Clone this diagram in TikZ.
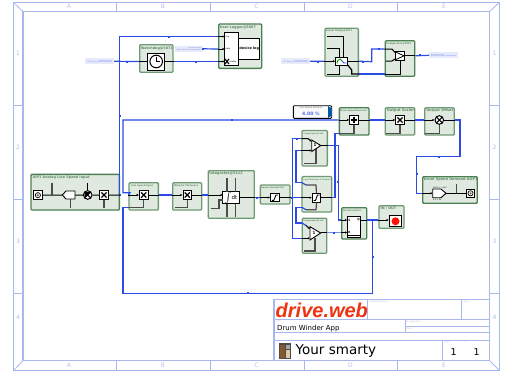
\documentclass[tikz,border=0pt]{standalone}
\usepackage{fontspec}
\setmainfont{DejaVu Sans}
\newfontfamily\logofont{Liberation Sans}
\usetikzlibrary{arrows.meta}
\definecolor{framecol}{HTML}{A9B7EF}
\definecolor{framenum}{HTML}{B4C0EE}
\definecolor{blockfill}{HTML}{DFE9DF}
\definecolor{blockedge}{HTML}{6F9A74}
\definecolor{blockdark}{HTML}{4A8052}
\definecolor{titlegreen}{HTML}{5E8A63}
\definecolor{wireblue}{HTML}{2A4BE6}
\definecolor{palelabel}{HTML}{E7EAFB}
\definecolor{logored}{HTML}{EE3311}
\newcommand{\fsz}[1]{\fontsize{#1}{#1}\selectfont}
\newcommand{\wiremark}[2]{\fill[wireblue] (#1-1,#2-1) rectangle (#1+1,#2+1);}
\tikzset{
  block/.style={draw=blockedge,line width=1.3pt,fill=blockfill,rounded corners=1pt,inner sep=0pt},
  darkblock/.style={block,draw=blockdark},
  blocktitle/.style={anchor=north west,inner sep=0pt,text=titlegreen,font=\fsz{#1}\bfseries},
  blocktitle/.default=3.5,
  iconbox/.style={draw=black,line width=1pt,fill=white,inner sep=0pt,minimum width=8.6pt,minimum height=8.6pt},
  bus/.style={draw=wireblue,line width=1.2pt},
  stub/.style={draw=black,line width=1pt},
  stubin/.style={stub,-{Latex[length=2.2pt,width=2.4pt]}},
  greystub/.style={draw=black!70,line width=1.2pt},
  palebox/.style={fill=palelabel,inner sep=0pt,minimum width=28.5pt,minimum height=6pt,align=right,text=wireblue!70,font=\fsz{1.7}},
  framelabel/.style={inner sep=0pt,text=framenum,font=\fsz{6}},
  sheetlabel/.style={anchor=north west,inner sep=0pt,text=framenum,font=\fsz{2.2}},
}
\begin{document}
\begin{tikzpicture}[x=1pt,y=-1pt]
\useasboundingbox (0,0) rectangle (506,372);
\fill[white] (0,0) rectangle (506,372);
% sheet frame
\draw[framecol,line width=1.2pt] (13.5,2.5) rectangle (499.5,370.5);
\draw[framecol,line width=1.2pt] (23,11.5) rectangle (489.5,360.5);
\draw[framecol,line width=0.8pt] (13.5,2.5) -- (23,11.5) (499.5,2.5) -- (489.5,11.5) (13.5,370.5) -- (23,360.5) (499.5,370.5) -- (489.5,360.5);
\draw[framecol,line width=0.9pt] (116.7,2.5) -- (116.7,11.5) (210,2.5) -- (210,11.5) (304,2.5) -- (304,11.5) (397.5,2.5) -- (397.5,11.5);
\draw[framecol,line width=0.9pt] (116.7,360.5) -- (116.7,370.5) (210,360.5) -- (210,370.5) (304,360.5) -- (304,370.5) (397.5,360.5) -- (397.5,370.5);
\draw[framecol,line width=0.9pt] (13.5,105) -- (23,105) (13.5,199) -- (23,199) (13.5,293) -- (23,293);
\draw[framecol,line width=0.9pt] (489.5,105) -- (499.5,105) (489.5,199) -- (499.5,199) (489.5,293) -- (499.5,293);
\node[framelabel] (topa) at (69,6.8) {A};
\node[framelabel] (topb) at (163,6.8) {B};
\node[framelabel] (topc) at (256.5,6.8) {C};
\node[framelabel] (topd) at (350.5,6.8) {D};
\node[framelabel] (tope) at (444,6.8) {E};
\node[framelabel] (bota) at (69,365.8) {A};
\node[framelabel] (botb) at (163,365.8) {B};
\node[framelabel] (botc) at (256.5,365.8) {C};
\node[framelabel] (botd) at (350.5,365.8) {D};
\node[framelabel] (bote) at (444,365.8) {E};
\node[framelabel] (lefta) at (18,53) {1};
\node[framelabel] (leftb) at (18,147) {2};
\node[framelabel] (leftc) at (18,241) {3};
\node[framelabel] (leftd) at (18,317.5) {4};
\node[framelabel] (righta) at (494.5,53) {1};
\node[framelabel] (rightb) at (494.5,147) {2};
\node[framelabel] (rightc) at (494.5,241) {3};
\node[framelabel] (rightd) at (494.5,317.5) {4};
% title sheet
\draw[framecol,line width=1.1pt] (274,299.3) rectangle (489.5,360.5);
\draw[framecol,line width=1pt] (274,319.3) -- (489.5,319.3) (405,326.7) -- (489.5,326.7) (274,332.7) -- (489.5,332.7) (274,340) -- (489.5,340);
\draw[framecol,line width=1pt] (367.7,299.3) -- (367.7,319.3) (461.7,299.3) -- (461.7,319.3) (405,319.3) -- (405,332.7) (442.3,340) -- (442.3,360.5);
\node[anchor=west,inner sep=0pt,text=logored,font=\logofont\bfseries\itshape\fsz{20}] (logotext) at (275.5,310.5) {drive.web};
\node[sheetlabel] (drawingno) at (369,300.3) {Drawing Number};
\node[sheetlabel] (issue) at (463,300.3) {Issue};
\node[sheetlabel] (titlelabel) at (275.5,320) {Title};
\node[sheetlabel] (designed) at (406.5,320.2) {Designed By};
\node[sheetlabel] (datelabel) at (406.5,327.6) {Date};
\node[sheetlabel] (pagelabel) at (444,341) {Page};
\node[sheetlabel] (oflabel) at (463.5,341) {of};
\node[anchor=west,inner sep=0pt,font=\fsz{7}] (apptitle) at (277,328.4) {Drum Winder App};
\node[anchor=west,inner sep=0pt,font=\fsz{13.5}] (smarty) at (295.5,351) {Your smarty};
\node[inner sep=0pt,font=\fsz{9.5}] (pageno) at (453.7,352) {1};
\node[inner sep=0pt,font=\fsz{9.5}] (pagecount) at (476.7,352) {1};
% smarty picture
\fill[black!70] (279,343) rectangle (291,359.3);
\fill[brown!70!black] (280,344.5) rectangle (285,358);
\fill[black!35] (285.5,345) rectangle (290,349);
\fill[brown!45] (285.5,350) rectangle (290,358);
% blocks
\node[block,minimum width=33.3pt,minimum height=27.6pt] (watchdog) at (156.3,58.5) {};
\node[darkblock,minimum width=43pt,minimum height=44.3pt] (logger) at (240.2,46.2) {};
\node[block,minimum width=33.3pt,minimum height=48pt] (ramp) at (341.7,52.3) {};
\node[darkblock,minimum width=29.4pt,minimum height=35.6pt] (select) at (400,58.5) {};
\node[darkblock,minimum width=88.3pt,minimum height=35.7pt] (ioin) at (75.2,192.2) {};
\node[block,minimum width=29.3pt,minimum height=27.3pt] (linespeed) at (143.7,196.4) {};
\node[block,minimum width=29pt,minimum height=27.3pt] (thickness) at (187.2,196.4) {};
\node[block,minimum width=46pt,minimum height=47.6pt] (integrator) at (231.3,194.5) {};
\node[block,minimum width=29.7pt,minimum height=19pt] (sqroot) at (275.2,194.5) {};
\node[block,minimum width=25.3pt,minimum height=35.5pt] (cmptop) at (314.7,148.3) {};
\node[block,minimum width=29.7pt,minimum height=35.5pt] (limit) at (316.9,194.3) {};
\node[block,minimum width=24.4pt,minimum height=35pt] (cmpbot) at (314.5,235.8) {};
\node[darkblock,minimum width=25pt,minimum height=31.3pt] (srlatch) at (354.2,223.4) {};
\node[block,minimum width=25pt,minimum height=22.6pt] (inout) at (391.5,217) {};
\node[darkblock,minimum width=29.7pt,minimum height=27.3pt] (demand) at (354.2,121.4) {};
\node[block,minimum width=29.4pt,minimum height=27.3pt] (scaler) at (400,121.4) {};
\node[block,minimum width=29.6pt,minimum height=27.3pt] (offset) at (439.5,121.4) {};
\node[darkblock,minimum width=54.6pt,minimum height=26.6pt] (aop) at (450,190) {};
\node[blocktitle=3.4] (watchdogname) at ([shift={(1.6,2.2)}]watchdog.north west) {Watchdog@5071};
\node[blocktitle=3.4] (loggername) at ([shift={(1.5,2)}]logger.north west) {User Logger@5067};
\node[blocktitle=2.4] (rampname) at ([shift={(1.5,2.2)}]ramp.north west) {Linear Ramp@5071};
\node[blocktitle=2.4] (selectname) at ([shift={(1.5,2.2)}]select.north west) {Comparator@5067};
\node[blocktitle=3.4] (ioinname) at ([shift={(2,1.8)}]ioin.north west) {UIP1 Analog Line Speed Input};
\node[blocktitle=2.3] (linespeedname) at ([shift={(2.5,2.4)}]linespeed.north west) {Line Speed Input};
\node[blocktitle=2.3] (thicknessname) at ([shift={(1.5,2.4)}]thickness.north west) {Material Thickness};
\node[blocktitle=3.5] (integratorname) at ([shift={(1.5,2)}]integrator.north west) {Integrator@5112};
\node[blocktitle=2.1] (sqrootname) at ([shift={(1.5,2.6)}]sqroot.north west) {Square Root@5118};
\node[blocktitle=1.9] (cmptopname) at ([shift={(2,2.6)}]cmptop.north west) {Comparator@5116};
\node[blocktitle=1.9] (limitname) at ([shift={(2,2.6)}]limit.north west) {Level Detector 2 Channel};
\node[blocktitle=1.9] (cmpbotname) at ([shift={(1.8,2.6)}]cmpbot.north west) {Comparator@5116};
\node[blocktitle=2.1] (srlatchname) at ([shift={(1.5,2.4)}]srlatch.north west) {SR Latch@5092};
\node[blocktitle=3.4] (inoutname) at ([shift={(2,1.8)}]inout.north west) {IN / OUT};
\node[blocktitle=2.2] (demandname) at ([shift={(1.5,2.4)}]demand.north west) {Drum Speed Demand};
\node[blocktitle=3.5] (scalername) at ([shift={(2,1.8)}]scaler.north west) {Output Scaler};
\node[blocktitle=3.5] (offsetname) at ([shift={(2,1.8)}]offset.north west) {Output Offset};
\node[blocktitle=3.5] (aopname) at ([shift={(1.6,2)}]aop.north west) {Drum Speed Demand AOP1};
% free labels and display
\node[palebox] (sourcea) at (99.7,61.3) {another source\\Will Source from Somewhere};
\node[palebox] (sourceb) at (189.2,48.8) {another source\\Will Source from Somewhere};
\node[palebox] (sourcec) at (295.5,61.3) {another source\\Will Source from Somewhere};
\node[palebox,align=left] (sourced) at (443.5,55.3) {another source\\Will Source from Somewhere};
\node[draw=black,line width=0.9pt,fill=black!2,rounded corners=1pt,inner sep=0pt,minimum width=38.4pt,minimum height=12.6pt] (display) at (312.5,112) {};
\fill[teal!70!blue] (328.2,106.2) -- (331.5,108) -- (331.5,116) -- (328.2,117.8) -- cycle;
\node[inner sep=0pt,text=black!60,font=\fsz{2.2}] (displayname) at (311,108.2) {Line Speed Demand};
\node[inner sep=0pt,text=wireblue!80,font=\fsz{4.6}\bfseries] (displayvalue) at (311,114) {4.00 \%};
% inner icons
\node[iconbox,minimum width=17pt,minimum height=17pt] (clock) at (156.2,61.5) {};
\node[iconbox,line width=0.7pt,minimum width=14pt,minimum height=33pt] (logcore) at (231.7,49.2) {};
\node[iconbox,minimum width=21pt,minimum height=21pt,font=\fsz{3.4}\bfseries] (logbox) at (249.2,48.8) {device log};
\node[iconbox,minimum width=12pt,minimum height=7.7pt] (rampbox) at (341.7,61.2) {};
\node[iconbox,line width=0.6pt,minimum width=9pt,minimum height=8.3pt] (selbox) at (399.5,55.8) {};
\node[iconbox] (ioicon) at (37.9,195.2) {};
\node[iconbox,circle,minimum width=8.6pt,minimum height=8.6pt] (iomul) at (87.7,195) {};
\node[iconbox] (ioscale) at (104,195) {};
\node[iconbox] (lsbox) at (143.7,195) {};
\node[iconbox] (mtbox) at (187.3,195) {};
\node[iconbox,minimum width=16.6pt,minimum height=12.3pt,font=\fsz{5.5}] (intbox) at (231,197.8) {$\int$dt};
\node[iconbox] (sqbox) at (274.8,197.5) {};
\node[iconbox,line width=0.7pt] (limbox) at (316.5,197.7) {};
\node[iconbox,line width=0.7pt,minimum width=13.4pt,minimum height=21.3pt] (srbox) at (354,226.6) {};
\node[iconbox,minimum width=12.4pt,minimum height=10.7pt] (ledbox) at (395.5,221.3) {};
\node[iconbox] (demandbox) at (354,120) {};
\node[iconbox] (scalerbox) at (400,120) {};
\node[iconbox,circle] (offsetdot) at (439.3,120) {};
\node[iconbox] (aopicon) at (470.5,193.3) {};
% coordinates for wires
\coordinate (loghi) at (224.7,36.5);
\coordinate (logmid) at (224.7,49);
\coordinate (loglo) at (224.7,61.5);
\coordinate (outbusa) at (119.5,36.5);
\coordinate (outbusb) at (119.5,195);
\coordinate (loopnw) at (123,120);
\coordinate (loopw) at (123,192.7);
\coordinate (loopsw) at (123,293.3);
\coordinate (loopse) at (372.7,293.3);
\coordinate (loopjoin) at (372.7,220);
\coordinate (lsupper) at (130,192.7);
\coordinate (lslower) at (123,207.8);
\coordinate (lsbend) at (143.7,207.8);
\coordinate (mtbend) at (187.3,207.8);
\coordinate (offsetc) at (460,120);
\coordinate (offsetd) at (460,156.7);
\coordinate (offsete) at (416.7,156.7);
\coordinate (offsetf) at (416.7,193.3);
\coordinate (aopin) at (432.7,193.3);
\coordinate (aopout) at (446,193.3);
\coordinate (splittop) at (292.3,138.5);
\coordinate (splitbot) at (292.3,238.3);
\coordinate (cmptopa) at (311.7,141.7);
\coordinate (cmptopb) at (311.7,150.5);
\coordinate (cmptopout) at (320.7,145.5);
\coordinate (cmpbota) at (310,229);
\coordinate (cmpbotb) at (310,238.3);
\coordinate (cmpbotout) at (320.7,232.5);
\coordinate (linktopa) at (296,150.5);
\coordinate (linktopb) at (296,182.7);
\coordinate (linktopc) at (302,182.7);
\coordinate (linktopd) at (306,185);
\coordinate (linktope) at (316,185);
\coordinate (linkbota) at (296,207.3);
\coordinate (linkbotb) at (296,223);
\coordinate (linkbotc) at (302,223);
\coordinate (linkdowna) at (302,207.3);
\coordinate (linkdownb) at (306,209.7);
\coordinate (linkdownc) at (316,209.7);
\coordinate (cmptoprun) at (338.3,145.5);
\coordinate (srin) at (347.3,220);
\coordinate (srinb) at (347.3,232.5);
\coordinate (srout) at (360.7,220);
\coordinate (limitup) at (335,197.7);
\coordinate (limitdem) at (335,133.3);
\coordinate (demandlow) at (354,133.3);
\coordinate (rampout) at (371.7,61.7);
\coordinate (rampupper) at (371.7,49);
\coordinate (selhi) at (392,49);
\coordinate (sello) at (392,61);
\coordinate (rampdrop) at (351.7,70);
\coordinate (rampdown) at (351.7,74);
\coordinate (rampfar) at (400,74);
% blue wires
\draw[bus] (sourcea.east) -- (clock.west -| watchdog.west);
\draw[bus] (clock.east -| watchdog.east) -- (loglo -| logger.west);
\draw[bus] (sourceb.east) -- (logmid -| logger.west);
\draw[bus] (loghi -| logger.west) -- (outbusa) -- (outbusb) -- (ioin.east |- outbusb);
\draw[bus] (linespeed.west |- lsbox) -- (lsupper) -- (loopw) -- (loopnw) -- (demand.west |- loopnw);
\draw[bus] (lslower -| linespeed.west) -- (lslower) -- (loopsw) -- (loopse) -- (loopjoin);
\draw[bus] (lsbox.east -| linespeed.east) -- (mtbox.west -| thickness.west);
\draw[bus] (mtbox.east -| thickness.east) -- (integrator.west |- mtbox);
\draw[bus] (intbox.east -| integrator.east) -- (sqroot.west |- intbox);
\draw[bus] (sqbox.east -| sqroot.east) -- (limit.west |- sqbox);
\draw[bus] (splittop) -- (splitbot);
\draw[bus] (splittop) -- (splittop -| cmptop.west);
\draw[bus] (splitbot) -- (splitbot -| cmpbot.west);
\draw[bus] (cmptop.west |- linktopa) -- (linktopa) -- (linktopb) -- (linktopc);
\draw[bus] (linkdowna) -- (linkbota) -- (linkbotb) -- (linkbotc);
\draw[bus] (cmptopout -| cmptop.east) -- (cmptoprun) -- (cmptoprun |- srin) -- (srlatch.west |- srin);
\draw[bus] (limbox.east -| limit.east) -- (limitup) -- (limitdem) -- (demand.west |- limitdem);
\draw[bus,line width=1.7pt,wireblue!65] (cmpbotout -| cmpbot.east) -- (srlatch.west |- srinb);
\draw[bus] (srlatch.east |- srout) -- (inout.west |- srout);
\draw[bus] (demandbox.east -| demand.east) -- (scalerbox.west -| scaler.west);
\draw[bus] (scalerbox.east -| scaler.east) -- (offsetdot.west -| offset.west);
\draw[bus] (offsetdot.east -| offset.east) -- (offsetc) -- (offsetd) -- (offsete) -- (offsetf) -- (offsetf -| aop.west);
\draw[bus] (sourcec.east) -- (rampbox.west -| ramp.west);
\draw[bus] (rampbox.east -| ramp.east) -- (rampout) -- (rampupper) -- (rampupper -| select.west);
\draw[bus] (rampdown -| ramp.east) -- (rampfar -| select.west);
\draw[bus] (selbox.east -| select.east) -- (sourced.west);
% black stubs
\draw[stub] (clock.west -| watchdog.west) -- (clock.west);
\draw[stub] (clock.east) -- (clock.east -| watchdog.east);
\draw[stubin] (loglo -| logger.west) -- (loglo);
\draw[stubin] (logmid -| logger.west) -- (logmid);
\draw[stubin] (loghi -| logger.west) -- (loghi);
\draw[stub] (ioicon.east) -- (62.3,195) (75,195) -- (iomul.west) (iomul.east) -- (ioscale.west) (ioscale.east) -- (ioscale.east -| ioin.east);
\draw[greystub] (52,182.7) -- (52,195);
\draw[stub] (87.7,183) -- (iomul.north);
\draw[greystub] (70.7,199) -- (70.7,208);
\draw[greystub] (ioscale.south) -- (ioscale.south |- lslower);
\draw[stubin] (linespeed.west |- lsbox) -- (lsbox.west);
\draw[stub] (lsbox.east) -- (lsbox.east -| linespeed.east);
\draw[stubin] (thickness.west |- mtbox) -- (mtbox.west);
\draw[stub] (mtbox.east) -- (mtbox.east -| thickness.east);
\draw[greystub] (lslower -| linespeed.west) -- (lsbend) -- (lsbox.south);
\draw[greystub] (175,207.8) -- (mtbend) -- (mtbox.south);
\draw[stubin] (integrator.west |- mtbox) -- (222.7,195);
\draw[stub] (intbox.east) -- (intbox.east -| integrator.east);
\draw[greystub,line width=1.5pt] (227,178) -- (227,191.7) (235.7,178) -- (235.7,191.7) (227,204) -- (227,217) (235.7,204) -- (235.7,217);
\draw[greystub] (210.5,208.7) -- (219,208.7) -- (219,200) -- (222.7,200);
\draw[stubin] (sqroot.west |- sqbox) -- (sqbox.west);
\draw[stub] (sqbox.east) -- (sqbox.east -| sqroot.east);
\draw[stubin] (limit.west |- limbox) -- (limbox.west);
\draw[stub] (limbox.east) -- (limbox.east -| limit.east);
\draw[bus] (linktopc) -- (linktopd);
\draw[bus] (linkdowna) -- (linkdownb);
\draw[greystub] (linktopd) -- (linktope) -- (limbox.north);
\draw[greystub] (linkdownb) -- (linkdownc) -- (limbox.south);
\draw[bus] (linkbotc) -- (306,225.5);
\draw[stubin] (splittop -| cmptop.west) -- (308,138.5) -- (cmptopa);
\draw[stubin] (cmptop.west |- linktopa) -- (cmptopb);
\draw[stubin] (306,225.5) -- (cmpbota);
\draw[stubin] (cmpbot.west |- splitbot) -- (cmpbotb);
\draw[greystub] (304,163.5) -- (316,163.5) -- (316,148.5);
\draw[greystub] (304,251) -- (315,251) -- (315,238);
% comparators
\draw[black,line width=0.9pt,fill=white] (311.7,140) -- (320.7,145.5) -- (311.7,151.5) -- cycle;
\draw[black,line width=0.9pt,fill=white] (310,226.7) -- (320.7,233) -- (310,240) -- cycle;
\draw[stub] (cmptopout) -- (cmptopout -| cmptop.east);
\draw[stub] (cmpbotout) -- (cmpbotout -| cmpbot.east);
\node[inner sep=0pt,font=\fsz{4}\bfseries] (cmptopone) at (315,145.5) {1};
\node[inner sep=0pt,font=\fsz{4}\bfseries] (cmpbotone) at (314,233) {1};
% ramp block stubs
\draw[stub] (327,36.3) -- (343.3,36.3) -- (343.3,57.3);
\draw[stub] (327,48.7) -- (339,48.7) -- (339,57.3);
\draw[stub] (327,74) -- (339,74) -- (339,65);
\draw[stubin] (rampbox.west -| ramp.west) -- (rampbox.west);
\draw[stub] (rampbox.east) -- (rampbox.east -| ramp.east);
\draw[stub,line width=1.2pt] (347.7,65) -- (rampdrop) -- (rampdown) -- (rampdown -| ramp.east);
\draw[green!60!black,line width=0.8pt] (337,63.5) -- (337.5,61) -- (340,59) -- (342,61);
\draw[blue!70,line width=0.8pt] (342,61) -- (344,63) -- (346.5,63);
% select block stubs
\draw[stub] (rampupper -| select.west) -- (selhi) -- (395,52.5);
\draw[stub] (rampfar -| select.west) -- (rampfar) -- (400,60);
\draw[stub] (386,61) -- (sello) -- (395,59);
\draw[stub] (selbox.east) -- (selbox.east -| select.east);
\draw[stub,line width=0.8pt] (395,51.7) -- (404,55.8) -- (395,60);
% logger lines and text
\node[inner sep=0pt,anchor=west,font=\fsz{2}] (logtrig) at (225.5,36.5) {trig};
\node[inner sep=0pt,anchor=west,font=\fsz{2}] (logdata) at (225.5,49) {data};
\node[inner sep=0pt,anchor=west,font=\fsz{2}] (logenable) at (229.4,61.5) {enable};
\draw[black,line width=1.1pt] (225,64) -- (229,59) (225,59) -- (229,64);
% clock face
\draw[black,line width=1pt] (clock) circle (6.3);
\draw[black,line width=0.8pt] (156.2,56.5) -- (clock.center) -- (160,61.5);
% io block icons
\draw[black,line width=0.9pt,fill=white] (62.3,195) -- (66,191) -- (75,191) -- (75,199) -- (66,199) -- cycle;
\draw[black,line width=0.7pt] (ioicon) circle (2.6);
\fill[black!60] (ioicon) circle (1.2);
\fill[black] (87.7,195) -- (84.7,192) -- (90.7,192) -- cycle;
\fill[black] (87.7,195) -- (84.7,198) -- (84.7,192) -- cycle;
\draw[black,line width=1.1pt] (84.7,192) -- (90.7,198) (90.7,192) -- (84.7,198);
\draw[black,line width=1.2pt] (101.4,192.4) -- (106.6,197.6) (106.6,192.4) -- (101.4,197.6);
\draw[black,line width=1.2pt] (141.1,192.4) -- (146.3,197.6) (146.3,192.4) -- (141.1,197.6);
\draw[black,line width=1.2pt] (184.7,192.4) -- (189.9,197.6) (189.9,192.4) -- (184.7,197.6);
% ramp curves
\draw[black,line width=0.9pt] (271.8,200.3) -- (273.8,200.3) -- (276,195) -- (278,195);
\draw[black,line width=0.9pt] (313.5,200.5) -- (315.5,200.5) -- (317.5,195) -- (319.5,195);
% sr latch text
\node[inner sep=0pt,font=\fsz{2.8}\bfseries] (srs) at (349.5,220) {S};
\node[inner sep=0pt,font=\fsz{2.8}\bfseries] (srq) at (358.5,220) {Q};
\node[inner sep=0pt,font=\fsz{2.8}\bfseries] (srr) at (349.5,232.5) {R};
\draw[stub] (srout) -- (srout -| srlatch.east);
\draw[stubin] (srlatch.west |- srin) -- (srin);
\draw[stubin] (srlatch.west |- srinb) -- (srinb);
\draw[black,line width=1.4pt] (347.5,235.5) -- (360.5,235.5);
% led
\draw[stubin] (inout.west |- srout) -- (ledbox.west |- srout);
\fill[red!85!orange] (ledbox) circle (4);
% demand path icons
\draw[stubin] (demand.west |- loopnw) -- (demandbox.west);
\draw[stub] (demandbox.east) -- (demandbox.east -| demand.east);
\draw[black,line width=1.2pt] (354,117.4) -- (354,122.6) (351.4,120) -- (356.6,120);
\draw[greystub] (limitdem -| demand.west) -- (demandlow) -- (demandbox.south);
\draw[stubin] (scalerbox.west -| scaler.west) -- (scalerbox.west);
\draw[stub] (scalerbox.east) -- (scalerbox.east -| scaler.east);
\draw[black,line width=1.2pt] (397.4,117.4) -- (402.6,122.6) (402.6,117.4) -- (397.4,122.6);
\draw[greystub] (386,133.3) -- (400,133.3) -- (scalerbox.south);
\draw[stubin] (offsetdot.west -| offset.west) -- (offsetdot.west);
\draw[stub] (offsetdot.east) -- (offsetdot.east -| offset.east);
\draw[black,line width=1.1pt] (436.3,117) -- (442.3,123) (442.3,117) -- (436.3,123);
\draw[greystub] (425.3,133.3) -- (439.3,133.3) -- (offsetdot.south);
% aop icons
\draw[stubin] (offsetf -| aop.west) -- (aopin);
\draw[black,line width=0.9pt,fill=white] (432.7,189) -- (441,189) -- (446,193.3) -- (441,197.7) -- (432.7,197.7) -- cycle;
\draw[stub] (aopout) -- (aopicon.west);
\draw[greystub,line width=0.9pt] (456,184) -- (456,193.3);
\draw[black,line width=0.7pt] (aopicon) circle (2.6);
\fill[black!60] (aopicon) circle (1.2);
\node[inner sep=0pt,anchor=west,font=\fsz{1.9}] (aophigh) at (433,187.4) {100.0 = +10V};
\node[inner sep=0pt,anchor=west,font=\fsz{1.9}] (aoplow) at (433,199.8) {0.0 = 0V};
% wire marks
\wiremark{127.3}{61.5}
\wiremark{195.7}{61.5}
\wiremark{169}{36.5}
\wiremark{203.3}{49}
\wiremark{119.5}{116}
\wiremark{232}{120}
\wiremark{248}{293.3}
\wiremark{123}{250.7}
\wiremark{165.7}{195}
\wiremark{204.3}{195}
\wiremark{256.7}{197.5}
\wiremark{292.3}{197.5}
\wiremark{296.7}{138.5}
\wiremark{376.7}{120}
\wiremark{419.7}{120}
\wiremark{460}{137.7}
\wiremark{438.7}{156.7}
\wiremark{416.7}{174}
\wiremark{338.3}{182}
\wiremark{372.7}{256.7}
\wiremark{334}{232.5}
\wiremark{318.3}{61.7}
\wiremark{363}{61.7}
\wiremark{379}{49}
\wiremark{371}{74}
\wiremark{420}{55.3}
\end{tikzpicture}
\end{document}
